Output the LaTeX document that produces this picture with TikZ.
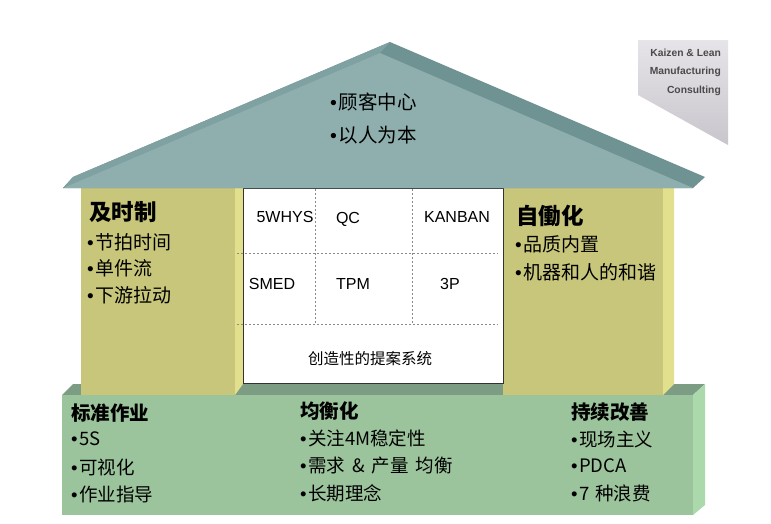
\documentclass[tikz,border=0pt]{standalone}
\usepackage{fontspec}
\setmainfont{Liberation Sans}
\newfontfamily\cjk{Noto Sans CJK SC}
\newfontfamily\latinf{Liberation Sans}
\newcommand\bul{{\latinf\mdseries\textbullet}\hspace{1.5pt}}
\definecolor{roofF}{HTML}{8FAFAF}
\definecolor{roofD}{HTML}{6F9393}
\definecolor{roofL}{HTML}{7FA1A1}
\definecolor{colF}{HTML}{C8C67A}
\definecolor{colS}{HTML}{E2E08C}
\definecolor{baseF}{HTML}{9CC49C}
\definecolor{baseT}{HTML}{7C9C84}
\definecolor{baseS}{HTML}{ABD9AB}
\definecolor{logoA}{HTML}{E6E4E8}
\definecolor{logoB}{HTML}{C8C6CC}
\definecolor{logoT}{HTML}{4A4A4A}
\definecolor{boxline}{HTML}{333333}
\definecolor{dashc}{HTML}{8A8A8A}
\begin{document}
\begin{tikzpicture}[x=1pt,y=-1pt,
  txt/.style={inner sep=0pt, anchor=west, text=black},
  rooftxt/.style={txt, font=\cjk\fontsize{19.5}{20}\selectfont},
  headtxt/.style={txt, font=\cjk\bfseries\fontsize{22.5}{23}\selectfont},
  itemtxt/.style={txt, font=\cjk\fontsize{19}{20}\selectfont},
  basehead/.style={txt, font=\cjk\bfseries\fontsize{19.5}{20}\selectfont},
  baseitem/.style={txt, font=\cjk\fontsize{18.5}{19}\selectfont},
  celltxt/.style={inner sep=0pt, anchor=center, font=\fontsize{16}{17}\selectfont},
  logotxt/.style={inner sep=0pt, anchor=east, text=logoT, font=\bfseries\fontsize{10.3}{11}\selectfont},
  dashln/.style={draw=dashc, line width=0.8pt, dash pattern=on 2pt off 2pt}
]
\useasboundingbox (0,0) rectangle (771,523);
\fill[white] (0,0) rectangle (771,523);

% logo
\shade[top color=logoA, bottom color=logoB] (638,40) -- (728,40) -- (728,145) -- (638,95) -- cycle;
\node[logotxt] (logo1) at (721,53) {Kaizen \& Lean};
\node[logotxt] (logo2) at (721,72) {Manufacturing};
\node[logotxt] (logo3) at (721,91) {Consulting};

% base
\fill[baseT] (62,395) -- (73,384) -- (705,384) -- (693,395) -- cycle;
\fill[baseF] (62,395) rectangle (693,515);
\fill[baseS] (693,395) -- (705,384) -- (705,505) -- (693,515) -- cycle;

% columns
\fill[colF] (81,188) rectangle (235,395);
\fill[colS] (235,188) -- (243,188) -- (243,384) -- (235,395) -- cycle;
\fill[colF] (503,188) rectangle (663,395);
\fill[colS] (663,188) -- (674,188) -- (674,384) -- (663,395) -- cycle;

% center box
\draw[boxline, fill=white, line width=0.8pt] (243,188) rectangle (503,383);
\draw[dashln] (237,253) -- (498,253);
\draw[dashln] (237,324) -- (498,324);
\draw[dashln] (315,189) -- (315,324);
\draw[dashln] (412,189) -- (412,324);

% roof
\fill[roofD] (63,188) -- (73,177) -- (390,42) -- (705,177) -- (693,188) -- cycle;
\fill[roofL] (63,188) -- (73,177) -- (390,42) -- (380,53) -- cycle;
\fill[roofF] (63,188) -- (380,53) -- (693,188) -- cycle;

% roof text
\node[rooftxt] (r1) at (330,102) {\bul 顾客中心};
\node[rooftxt] (r2) at (330,135) {\bul 以人为本};

% cells
\node[celltxt] (c1) at (285,217) {5WHYS};
\node[celltxt] (c2) at (348,219) {QC};
\node[celltxt] (c3) at (457,217) {KANBAN};
\node[celltxt] (c4) at (272,284) {SMED};
\node[celltxt] (c5) at (353,284) {TPM};
\node[celltxt] (c6) at (450,284) {3P};
\node[celltxt, font=\cjk\fontsize{15.5}{16}\selectfont] (c7) at (370,359) {创造性的提案系统};

% left column
\node[headtxt] (jit) at (89,212) {及时制};
\node[itemtxt] (jit1) at (87,242) {\bul 节拍时间};
\node[itemtxt] (jit2) at (87,268) {\bul 单件流};
\node[itemtxt] (jit3) at (87,295) {\bul 下游拉动};

% right column
\node[headtxt] (jido) at (516,216) {自働化};
\node[itemtxt] (jido1) at (515,244) {\bul 品质内置};
\node[itemtxt] (jido2) at (515,272) {\bul 机器和人的和谐};

% base texts
\node[basehead] (b1) at (71,413) {标准作业};
\node[baseitem] (b11) at (71,439) {\bul 5S};
\node[baseitem] (b12) at (71,467) {\bul 可视化};
\node[baseitem] (b13) at (71,494) {\bul 作业指导};

\node[basehead] (b2) at (300,411) {均衡化};
\node[baseitem] (b21) at (300,438) {\bul 关注4M稳定性};
\node[baseitem] (b22) at (300,466) {\bul 需求\hspace{7pt}\&\hspace{7pt}产量\hspace{7pt}均衡};
\node[baseitem] (b23) at (300,493) {\bul 长期理念};

\node[basehead] (b3) at (571,412) {持续改善};
\node[baseitem] (b31) at (571,439) {\bul 现场主义};
\node[baseitem] (b32) at (571,466) {\bul PDCA};
\node[baseitem] (b33) at (571,493) {\bul 7\hspace{6pt}种浪费};
\end{tikzpicture}
\end{document}
